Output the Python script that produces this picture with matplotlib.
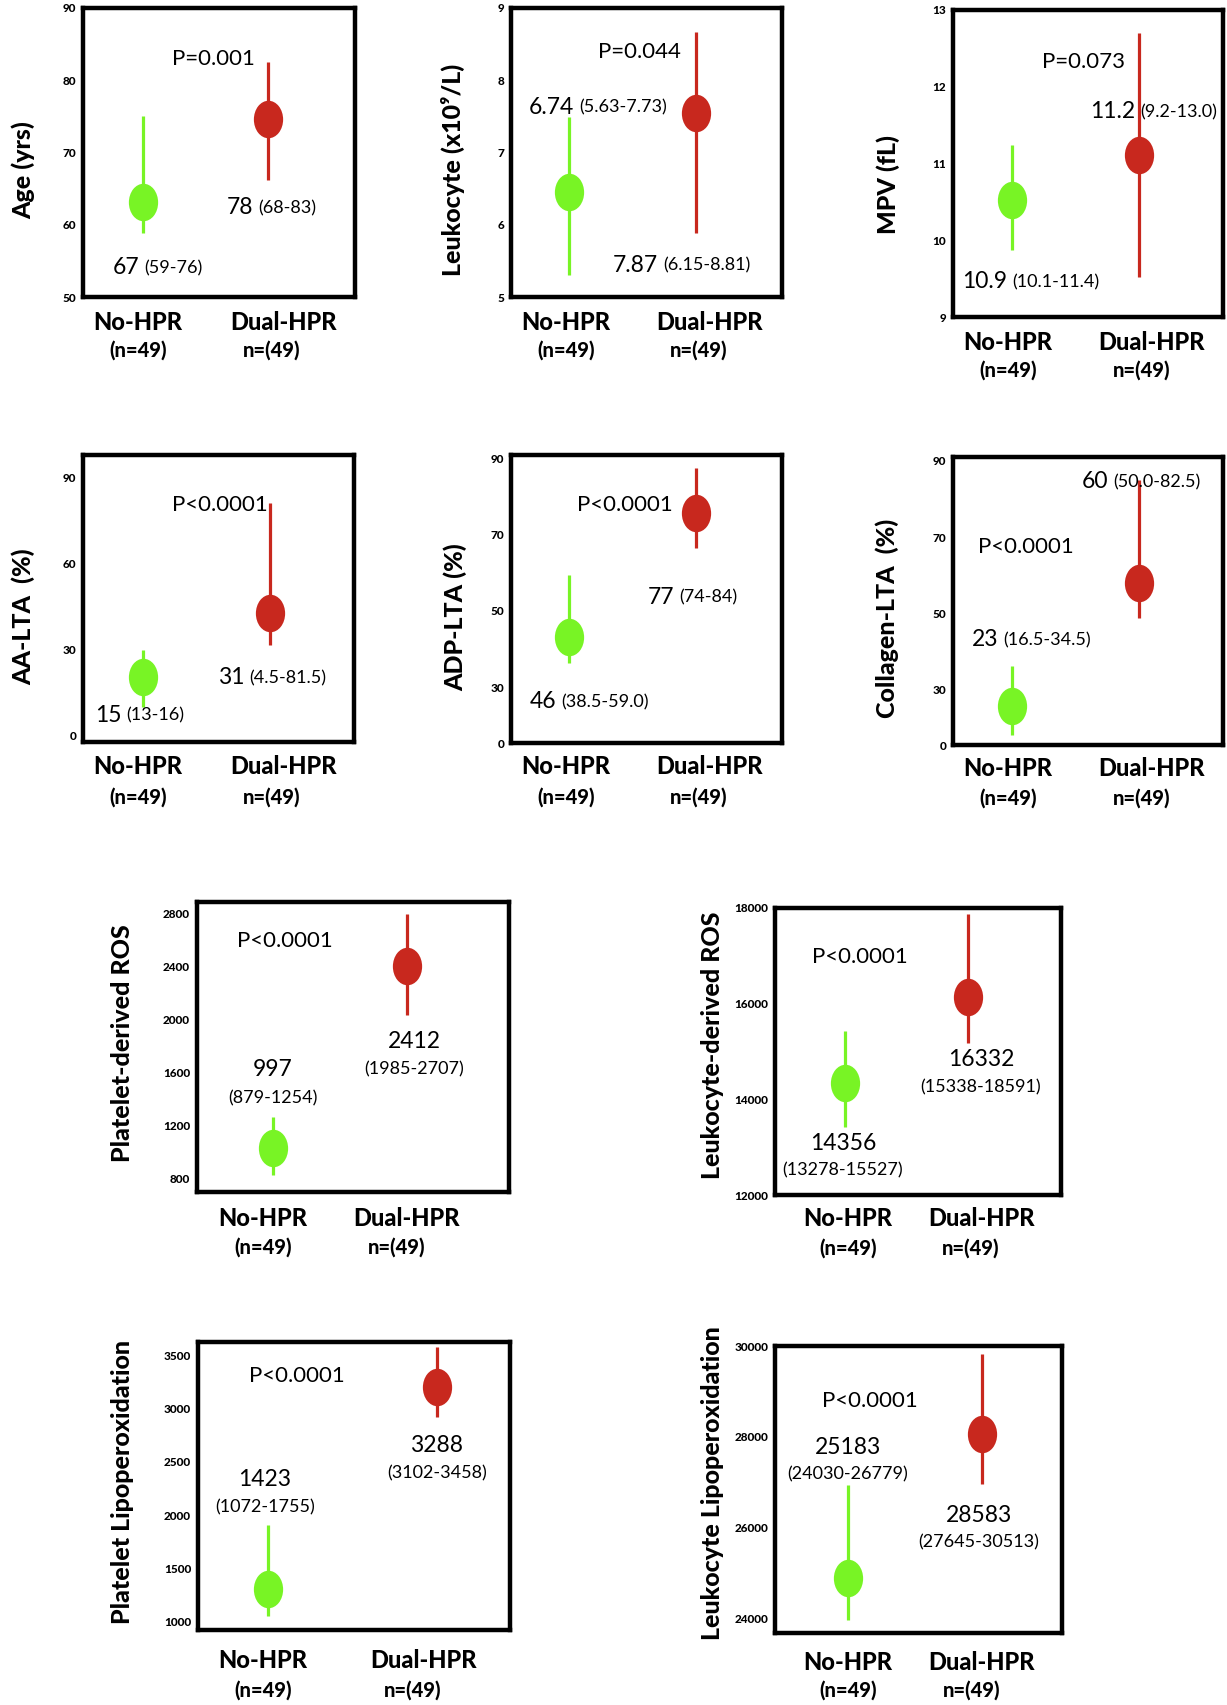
import numpy as np
import matplotlib.pyplot as plt
from matplotlib.path import Path
from matplotlib.transforms import Affine2D

W, H = 1227, 1705
GREEN = '#78f425'
RED = '#c8281e'
FONT = ['Lato', 'DejaVu Sans']
plt.rcParams['font.family'] = FONT

# ---- data ----
ylabels = ['Age (yrs)', 'Leukocyte (x10⁹/L)', 'MPV (fL)', 'AA-LTA  (%)', 'ADP-LTA (%)',
           'Collagen-LTA  (%)', 'Platelet-derived ROS', 'Leukocyte-derived ROS',
           'Platelet Lipoperoxidation', 'Leukocyte Lipoperoxidation']
p_values = ['P=0.001', 'P=0.044', 'P=0.073', 'P<0.0001', 'P<0.0001',
            'P<0.0001', 'P<0.0001', 'P<0.0001', 'P<0.0001', 'P<0.0001']

no_mid = [63.1, 6.45, 10.52, 20.3, 43.2, 25.8, 1033, 14342, 1309, 24879]
no_lo = [58.9, 5.30, 9.87, 9.8, 36.3, 18.2, 830, 13422, 1056, 23956]
no_hi = [75.1, 7.49, 11.24, 29.7, 59.5, 36.3, 1265, 15429, 1908, 26945]
dual_mid = [74.6, 7.55, 11.11, 42.6, 75.8, 57.9, 2405, 16140, 3200, 28066]
dual_lo = [66.2, 5.89, 9.52, 31.4, 66.6, 48.9, 2030, 15178, 2919, 26967]
dual_hi = [82.5, 8.67, 12.70, 81.0, 87.6, 85.0, 2795, 17875, 3575, 29824]

no_med = ['67', '6.74', '10.9', '15', '46', '23', '997', '14356', '1423', '25183']
no_iqr = ['(59-76)', '(5.63-7.73)', '(10.1-11.4)', '(13-16)', '(38.5-59.0)',
          '(16.5-34.5)', '(879-1254)', '(13278-15527)', '(1072-1755)', '(24030-26779)']
dual_med = ['78', '7.87', '11.2', '31', '77', '60', '2412', '16332', '3288', '28583']
dual_iqr = ['(68-83)', '(6.15-8.81)', '(9.2-13.0)', '(4.5-81.5)', '(74-84)',
            '(50.0-82.5)', '(1985-2707)', '(15338-18591)', '(3102-3458)', '(27645-30513)']

ylims = [(50, 90), (5, 9), (9, 13), (-2.4, 97.7), (15.3, 91), (15.5, 91),
         (702, 2883), (12000, 18000), (925, 3622), (23670, 30000)]
yticks = [[50, 60, 70, 80, 90], [5, 6, 7, 8, 9], [9, 10, 11, 12, 13], [0, 30, 60, 90],
          [30, 50, 70, 90], [30, 50, 70, 90], [800, 1200, 1600, 2000, 2400, 2800],
          [12000, 14000, 16000, 18000], [1000, 1500, 2000, 2500, 3000, 3500],
          [24000, 26000, 28000, 30000]]
floor_label = [None, None, None, None, '0', '0', None, None, None, None]

# ---- layout (pixels in the 1227x1705 picture) ----
boxes = [(83, 8, 355, 297), (511, 8, 782, 297), (953, 10, 1223, 317),
         (83, 455, 354, 742), (511, 455, 782, 743), (953, 457, 1223, 745),
         (197, 902, 509, 1192), (775, 908, 1061, 1195),
         (198, 1342, 510, 1630), (775, 1346, 1062, 1633)]
no_x = [0.22, 0.214, 0.22, 0.22, 0.214, 0.22, 0.244, 0.245, 0.224, 0.254]
dual_x = [0.68, 0.683, 0.69, 0.69, 0.683, 0.69, 0.673, 0.675, 0.766, 0.721]
p_pos = [(172, 59), (598, 52), (1042, 62), (172, 505), (577, 505), (978, 547),
         (237, 941), (812, 957), (249, 1376), (822, 1401)]
# inline labels for the top six panels (left, y)
no_inline = [(113, 268), (529, 107), (962, 282), (95, 715), (530, 702), (972, 640)]
dual_inline = [(227, 208), (613, 265), (1090, 112), (218, 678), (648, 597), (1082, 482)]
# stacked labels for the bottom four panels (centre x, y big, y small)
no_stack = [(273, 1070, 1098), (843, 1143, 1170), (265, 1480, 1507), (848, 1447, 1474)]
dual_stack = [(414, 1042, 1069), (981, 1060, 1087), (437, 1445, 1473), (979, 1515, 1542)]
# group labels: no-x, dual-x, n=(49)-x, y name, y n
groups = [(138, 283, 272, 322, 350), (566, 710, 699, 322, 350), (1008, 1152, 1142, 342, 370),
          (138, 283, 272, 767, 797), (566, 710, 699, 767, 797), (1008, 1152, 1142, 769, 798),
          (263, 407, 397, 1218, 1247), (848, 981, 971, 1219, 1248),
          (263, 423, 413, 1661, 1690), (848, 982, 972, 1662, 1690)]
ylab_pos = [(23, 170), (453, 170), (888, 185), (23, 617), (455, 617), (887, 618),
            (123, 1043), (713, 1045), (123, 1482), (713, 1483)]

ellipse = Path.unit_circle().transformed(Affine2D().scale(0.78, 1.0))

fig = plt.figure(figsize=(W / 100, H / 100), dpi=100)


def fx(x):
    return x / W


def fy(y):
    return 1 - y / H


def two_part(x, y, big, small):
    t = fig.text(fx(x), fy(y), big, fontsize=16.5, ha='left', va='center')
    fig.canvas.draw()
    bb = t.get_window_extent()
    fig.text((bb.x1 + 5) / W, bb.y0 / H + 0.0012, small, fontsize=13, ha='left', va='bottom')


for i in range(10):
    l, t, r, b = boxes[i]
    ax = fig.add_axes([fx(l), fy(b), (r - l) / W, (b - t) / H])
    ax.set_xlim(0, 1)
    ax.set_ylim(*ylims[i])

    ax.vlines(no_x[i], no_lo[i], no_hi[i], color=GREEN, lw=2.3)
    ax.vlines(dual_x[i], dual_lo[i], dual_hi[i], color=RED, lw=2.3)
    ax.plot(no_x[i], no_mid[i], marker=ellipse, ms=27, color=GREEN, mec='none')
    ax.plot(dual_x[i], dual_mid[i], marker=ellipse, ms=27, color=RED, mec='none')

    ticks = list(yticks[i])
    labels = [str(v) for v in ticks]
    if floor_label[i] is not None:
        ticks = [ylims[i][0]] + ticks
        labels = [floor_label[i]] + labels
    ax.set_yticks(ticks, labels)
    ax.set_xticks([])
    ax.tick_params(axis='y', length=0, pad=5, labelsize=8.5)
    for lab in ax.get_yticklabels():
        lab.set_fontweight('black')
    for s in ax.spines.values():
        s.set_linewidth(3.2)
        s.set_color('black')

    fig.text(fx(ylab_pos[i][0]), fy(ylab_pos[i][1]), ylabels[i], rotation=90,
             fontsize=18, fontweight='black', ha='center', va='center')
    fig.text(fx(p_pos[i][0]), fy(p_pos[i][1]), p_values[i], fontsize=16,
             ha='left', va='center')

    gx_no, gx_dual, gx_n, gy1, gy2 = groups[i]
    fig.text(fx(gx_no), fy(gy1), 'No-HPR', fontsize=17, fontweight='black', ha='center', va='center')
    fig.text(fx(gx_no), fy(gy2), '(n=49)', fontsize=14.5, fontweight='black', ha='center', va='center')
    fig.text(fx(gx_dual), fy(gy1), 'Dual-HPR', fontsize=17, fontweight='black', ha='center', va='center')
    fig.text(fx(gx_n), fy(gy2), 'n=(49)', fontsize=14.5, fontweight='black', ha='center', va='center')

    if i < 6:
        two_part(*no_inline[i], no_med[i], no_iqr[i])
        two_part(*dual_inline[i], dual_med[i], dual_iqr[i])
    else:
        k = i - 6
        for (cx, y1, y2), big, small in [(no_stack[k], no_med[i], no_iqr[i]),
                                         (dual_stack[k], dual_med[i], dual_iqr[i])]:
            fig.text(fx(cx), fy(y1), big, fontsize=16.5, ha='center', va='center')
            fig.text(fx(cx), fy(y2), small, fontsize=13, ha='center', va='center')

fig.savefig('out.png', dpi=100)
